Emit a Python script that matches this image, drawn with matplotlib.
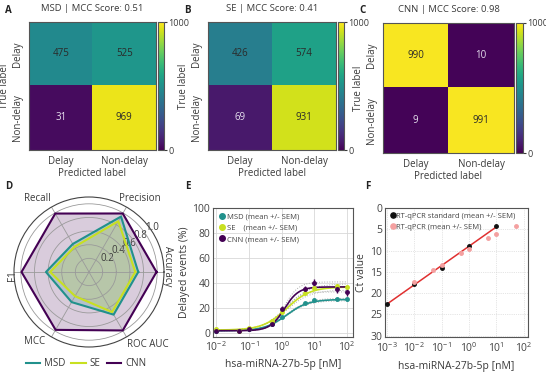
#!/usr/bin/env python3
"""Confusion matrices, radar of metrics, dose-response and RT-qPCR standard curve."""

import matplotlib

matplotlib.use("Agg")
import matplotlib.pyplot as plt
import numpy as np

plt.rcParams["font.family"] = ["Open Sans", "DejaVu Sans"]
plt.rcParams["font.size"] = 7

# --- data -----------------------------------------------------------------
CLASS_LABELS = ["Delay", "Non-delay"]
MODELS = ["MSD", "SE", "CNN"]
MCC_SCORES = [0.51, 0.41, 0.98]
CM_MSD = [[475, 525], [31, 969]]
CM_SE = [[426, 574], [69, 931]]
CM_CNN = [[990, 10], [9, 991]]

RADAR_METRICS = ["Accuracy", "Precision", "Recall", "F1", "MCC", "ROC AUC"]
RADAR_MSD = [0.722, 0.939, 0.475, 0.631, 0.51, 0.722]
RADAR_SE = [0.679, 0.861, 0.426, 0.570, 0.41, 0.679]
RADAR_CNN = [0.990, 0.991, 0.990, 0.990, 0.98, 0.990]

CONC = [0.01, 0.05, 0.1, 0.5, 1, 5, 10, 50, 100]
DELAY_MSD = [2.0, 2.0, 3.0, 7.0, 13.0, 24.0, 26.5, 27.5, 27.0]
DELAY_SE = [3.0, 2.0, 4.0, 10.0, 17.0, 32.0, 36.0, 37.5, 37.0]
DELAY_CNN = [1.5, 2.0, 3.0, 7.0, 19.0, 35.0, 40.0, 35.0, 33.0]
SEM_MSD = [0.3, 0.3, 0.4, 0.5, 1.0, 0.8, 0.8, 0.8, 1.0]
SEM_SE = [0.4, 0.4, 0.5, 1.0, 1.5, 1.2, 1.2, 1.5, 1.5]
SEM_CNN = [0.5, 0.4, 0.5, 1.0, 3.0, 2.5, 3.0, 2.5, 3.0]
# fitted 4PL parameters: bottom, top, EC50 [nM], hill slope
FIT_MSD = [2.0, 27.0, 1.4, 1.3]
FIT_SE = [2.5, 37.0, 1.4, 1.2]
FIT_CNN = [2.0, 37.0, 1.2, 2.0]
BAND_DELTA = [1.0, 2.5, 4.0]

STD_CONC = [0.001, 0.01, 0.1, 1, 10]
STD_CT = [22.5, 17.8, 14.0, 9.0, 4.2]
SAMPLE_CONC = [0.01, 0.05, 0.1, 0.5, 1, 5, 10, 50]
SAMPLE_CT = [17.3, 14.5, 13.3, 10.5, 9.6, 7.0, 6.0, 4.2]

COLORS = ["#21918c", "#c8e020", "#440154"]
TXT = "#3a3a3a"

W, H = 546, 374


def box(left, top, width, height):
    return [left / W, 1 - (top + height) / H, width / W, height / H]


def four_pl(x, bottom, top, ec50, hill):
    return bottom + (top - bottom) / (1 + (ec50 / x) ** hill)


def letter(x, y, s):
    fig.text(x / W, 1 - y / H, s, fontweight="bold", fontsize=7, va="top", color="#222222")


fig = plt.figure(figsize=(W / 100, H / 100), dpi=100)

# --- A, B, C confusion matrices ---------------------------------------------
cm_boxes = [
    ((29, 22, 127, 128), (158, 22, 6, 128)),
    ((208, 22, 128, 128), (338, 22, 6, 128)),
    ((383, 23, 131, 130), (516, 23, 7, 130)),
]
for i, cm in enumerate([CM_MSD, CM_SE, CM_CNN]):
    ax_box, cb_box = cm_boxes[i]
    ax = fig.add_axes(box(*ax_box))
    cax = fig.add_axes(box(*cb_box))
    cm = np.array(cm)
    im = ax.imshow(cm, cmap="viridis", vmin=0, vmax=1000, aspect="auto")
    for r in range(2):
        for c in range(2):
            val = cm[r, c]
            color = "#e6e0ee" if val < 300 else "#2a2a2a"
            ax.text(c, r, str(val), ha="center", va="center", color=color, fontsize=7)
    ax.set_xticks([0, 1])
    ax.set_xticklabels(CLASS_LABELS)
    ax.set_yticks([0, 1])
    ax.set_yticklabels(CLASS_LABELS, rotation=90, va="center")
    ax.tick_params(length=0, pad=4, colors=TXT)
    ax.set_xlabel("Predicted label", color=TXT, labelpad=1)
    ax.set_ylabel("True label", color=TXT, labelpad=2)
    ax.set_title(f"{MODELS[i]} | MCC Score: {MCC_SCORES[i]:.2f}", color=TXT, pad=8, fontsize=6.8)
    for s in ax.spines.values():
        s.set_color("#555555")
    cb = fig.colorbar(im, cax=cax, ticks=[0, 1000])
    cb.outline.set_edgecolor("#555555")
    cax.tick_params(length=2, pad=1, labelsize=6.5, colors=TXT)
    letter(ax_box[0] - 24, 5, "ABC"[i])

# --- D radar ------------------------------------------------------------------
axr = fig.add_axes(box(14, 197, 150, 150), projection="polar")
n = len(RADAR_METRICS)
angles = np.deg2rad(np.arange(n) * 360 / n)
closed = np.concatenate([angles, angles[:1]])
radar = [(RADAR_CNN, COLORS[2], "CNN"), (RADAR_MSD, COLORS[0], "MSD"), (RADAR_SE, COLORS[1], "SE")]
for vals, color, name in radar:
    v = np.concatenate([vals, vals[:1]])
    axr.fill(closed, v, color=color, alpha=0.2, lw=0)
handles = {}
for vals, color, name in radar:
    v = np.concatenate([vals, vals[:1]])
    (handles[name],) = axr.plot(closed, v, color=color, lw=1.5, label=name)
axr.set_ylim(0, 1.1)
axr.set_yticks([0.2, 0.4, 0.6, 0.8, 1.0])
axr.set_yticklabels(["0.2", "0.4", "0.6", "0.8", "1.0"], fontsize=7, color=TXT)
axr.set_rlabel_position(35)
axr.set_xticks(angles)
axr.set_xticklabels([])
axr.grid(color="#9a9a9a", lw=0.6)
axr.spines["polar"].set_color("#444444")
axr.spines["polar"].set_linewidth(0.8)
# label placement (theta in degrees, radius) so the names sit off the corners
label_theta = [4, 55, 125, 183, 232, 309]
label_r = [1.16, 1.31, 1.31, 1.13, 1.3, 1.36]
label_rot = [-90, 0, 0, 90, 0, 0]
for th, lab, r, rot in zip(label_theta, RADAR_METRICS, label_r, label_rot):
    axr.text(np.deg2rad(th), r, lab, ha="center", va="center", rotation=rot, color=TXT,
             fontsize=7, clip_on=False)
fig.legend([handles[m] for m in MODELS], MODELS, loc="center", bbox_to_anchor=(86 / W, 1 - 364 / H),
           ncol=3, frameon=False, handlelength=1.5, columnspacing=0.6, handletextpad=0.4, fontsize=7,
           labelcolor=TXT)
letter(5, 181, "D")

# --- E dose response --------------------------------------------------------
axe = fig.add_axes(box(213, 208, 140, 129))
xs = np.logspace(-2, 2, 200)
series = [(DELAY_MSD, SEM_MSD, FIT_MSD), (DELAY_SE, SEM_SE, FIT_SE), (DELAY_CNN, SEM_CNN, FIT_CNN)]
for (vals, sem, fit), color, delta in zip(series, COLORS, BAND_DELTA):
    b, t, ec, h = fit
    axe.plot(xs, four_pl(xs, b, t + delta, ec, h), color="#aaaaaa", lw=0.7, ls=":")
    axe.plot(xs, four_pl(xs, b, t - delta, ec, h), color="#aaaaaa", lw=0.7, ls=":")
legend_labels = ["MSD (mean +/- SEM)", "SE    (mean +/- SEM)", "CNN (mean +/- SEM)"]
leg_handles = []
for (vals, sem, fit), color, lab in zip(series, COLORS, legend_labels):
    axe.plot(xs, four_pl(xs, *fit), color=color, lw=1.2)
    axe.errorbar(CONC, vals, yerr=sem, fmt="o", ms=2.5, color=color, ecolor=color,
                 elinewidth=1.0, capsize=0)
    leg_handles.append(axe.plot([], [], "o", ms=4, color=color, label=lab)[0])
axe.set_xscale("log")
axe.set_xlim(0.008, 150)
axe.set_ylim(-3, 100)
axe.set_yticks([0, 20, 40, 60, 80, 100])
axe.set_xticks([0.01, 0.1, 1, 10, 100])
axe.grid(True, which="major", color="#d8d8d8", lw=0.6)
axe.grid(True, which="minor", axis="x", color="#e6e6e6", lw=0.5)
axe.set_axisbelow(True)
axe.tick_params(which="both", length=0, labelsize=7.5, colors="#444444", pad=2)
axe.set_xlabel("hsa-miRNA-27b-5p [nM]", color=TXT, fontsize=7.5)
axe.set_ylabel("Delayed events (%)", color=TXT, fontsize=7.5, labelpad=2)
for s in axe.spines.values():
    s.set_color("#555555")
axe.legend(handles=leg_handles, loc="upper left", frameon=False, fontsize=5.5, handletextpad=0.1,
           borderaxespad=0.3, labelspacing=0.5, handlelength=1.0, labelcolor="#444444")
letter(185, 181, "E")

# --- F RT-qPCR --------------------------------------------------------------
axf = fig.add_axes(box(385, 208, 143, 129))
coef = np.polyfit(np.log10(STD_CONC), STD_CT, 1)
xl = np.logspace(-3, 1, 50)
axf.plot(xl, np.polyval(coef, np.log10(xl)), color="#e03030", lw=1.1, zorder=2)
axf.plot(STD_CONC, STD_CT, "o", ms=2.5, color="#111111", label="RT-qPCR standard (mean +/- SEM)", zorder=3)
axf.plot(SAMPLE_CONC, SAMPLE_CT, "o", ms=2.5, color="#f4a0a0", label="RT-qPCR (mean +/- SEM)", zorder=3)
axf.set_xscale("log")
axf.set_xlim(10 ** -3.07, 10 ** 2.15)
axf.set_ylim(30.3, 0)
axf.set_yticks([0, 5, 10, 15, 20, 25, 30])
axf.set_xticks([1e-3, 1e-2, 1e-1, 1, 10, 100])
axf.grid(True, which="both", color="#cccccc", lw=0.5, ls=":")
axf.set_axisbelow(True)
axf.tick_params(which="both", length=0, labelsize=7.5, colors="#444444", pad=2)
axf.tick_params(axis="x", pad=3)
axf.set_xlabel("hsa-miRNA-27b-5p [nM]", color=TXT, fontsize=7.5)
axf.set_ylabel("Ct value", color=TXT, fontsize=7.5, labelpad=2)
for s in axf.spines.values():
    s.set_color("#555555")
axf.legend(loc="upper left", frameon=False, fontsize=5.5, handletextpad=0.1, borderaxespad=0.2,
           labelspacing=0.5, handlelength=0.8, markerscale=1.5, labelcolor="#444444")
letter(365, 181, "F")

fig.savefig("out.png", dpi=100)
